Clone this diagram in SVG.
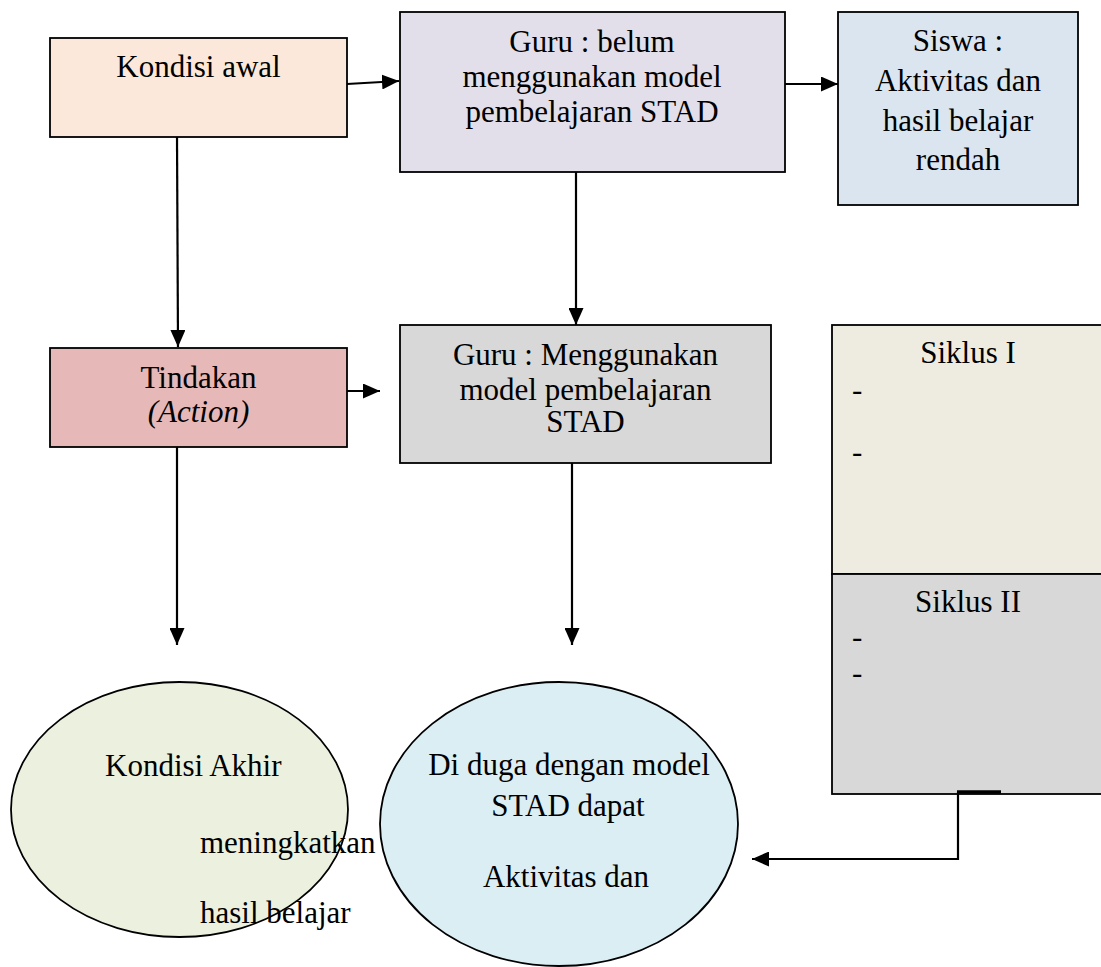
<svg xmlns="http://www.w3.org/2000/svg" width="1101" height="967" viewBox="0 0 1101 967">
<style>
text{font-family:"Liberation Serif","Times New Roman",serif;font-size:31px;fill:#000}
.c{text-anchor:middle}
.box{stroke:#000;stroke-width:1.8}
.ln{fill:none;stroke:#000;stroke-width:2.2}
</style>
<defs>
<marker id="ah" markerUnits="userSpaceOnUse" markerWidth="17" markerHeight="15" refX="17" refY="7.5" orient="auto">
<path d="M0,0 L17,7.5 L0,15 z" fill="#000"/>
</marker>
</defs>
<rect width="1101" height="967" fill="#fff"/>
<g id="kondisi-awal">
<rect class="box" x="50" y="38" width="297" height="99" fill="#fce8da"/>
<text class="c" x="198.5" y="77">Kondisi awal</text>
</g>
<g id="guru-belum">
<rect class="box" x="400" y="12" width="385" height="160" fill="#e3dfea"/>
<text class="c" x="592" y="52">Guru : belum</text>
<text class="c" x="592" y="87">menggunakan model</text>
<text class="c" x="592" y="122">pembelajaran STAD</text>
</g>
<g id="siswa">
<rect class="box" x="838" y="12" width="240" height="193" fill="#dbe5f0"/>
<text class="c" x="958" y="51">Siswa :</text>
<text class="c" x="958" y="91">Aktivitas dan</text>
<text class="c" x="958" y="131">hasil belajar</text>
<text class="c" x="958" y="170">rendah</text>
</g>
<g id="tindakan">
<rect class="box" x="50" y="348" width="297" height="99" fill="#e6b8b7"/>
<text class="c" x="198.5" y="388">Tindakan</text>
<text class="c" x="198.5" y="422" font-style="italic">(Action)</text>
</g>
<g id="guru-menggunakan">
<rect class="box" x="400" y="325" width="371" height="138" fill="#d8d8d8"/>
<text class="c" x="585.5" y="365">Guru : Menggunakan</text>
<text class="c" x="585.5" y="400">model pembelajaran</text>
<text class="c" x="585.5" y="432">STAD</text>
</g>
<g id="siklus">
<rect class="box" x="832" y="325" width="272" height="249" fill="#eeece1"/>
<rect class="box" x="832" y="574" width="272" height="220" fill="#d8d8d8"/>
<text class="c" x="968" y="363">Siklus I</text>
<text x="852" y="400">-</text>
<text x="852" y="462">-</text>
<text class="c" x="968" y="612">Siklus II</text>
<text x="852" y="647">-</text>
<text x="852" y="683">-</text>
</g>
<g id="kondisi-akhir">
<ellipse class="box" cx="179.5" cy="809.5" rx="168.5" ry="127.5" fill="#ebf1de"/>
<text x="105" y="776">Kondisi Akhir</text>
<text x="200" y="853">meningkatkan</text>
<text x="200" y="923">hasil belajar</text>
</g>
<g id="di-duga">
<ellipse class="box" cx="559" cy="824" rx="179" ry="142" fill="#dbeef4"/>
<text class="c" x="569" y="775">Di duga dengan model</text>
<text class="c" x="568" y="816">STAD dapat</text>
<text class="c" x="566" y="887">Aktivitas dan</text>
</g>
<g id="connectors">
<line class="ln" x1="347" y1="84" x2="399" y2="81" marker-end="url(#ah)"/>
<line class="ln" x1="785" y1="84" x2="838" y2="84" marker-end="url(#ah)"/>
<line class="ln" x1="177" y1="137" x2="178" y2="347" marker-end="url(#ah)"/>
<line class="ln" x1="576" y1="172" x2="576" y2="325" marker-end="url(#ah)"/>
<line class="ln" x1="347" y1="391" x2="380" y2="391" marker-end="url(#ah)"/>
<line class="ln" x1="177" y1="447" x2="177" y2="645" marker-end="url(#ah)"/>
<line class="ln" x1="572" y1="463" x2="572" y2="645" marker-end="url(#ah)"/>
<line x1="957" y1="792" x2="1001" y2="792" stroke="#000" stroke-width="3.5"/>
<polyline class="ln" points="958,792 958,859 752,859" marker-end="url(#ah)"/>
</g>
</svg>
